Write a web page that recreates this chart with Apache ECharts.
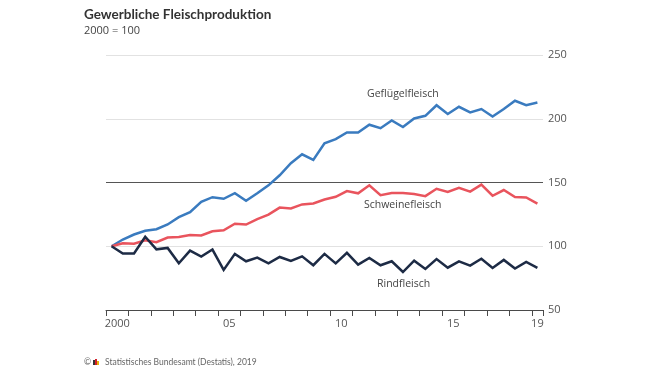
<!DOCTYPE html>
<html>
<head>
<meta charset="utf-8">
<script src="https://cdn.jsdelivr.net/npm/echarts@6/dist/echarts.min.js"></script>
<style>
html,body{margin:0;padding:0;background:#fff;}
#chart{width:650px;height:366px;}
</style>
</head>
<body>
<div id="chart"></div>
<script>
// Half-yearly periods 2000 H1 .. 2019 H1
const years = [];
for (let y = 2000; y <= 2019; y++) years.push(y);
const periods = [];
years.forEach(y => { periods.push(y + ' H1'); if (y < 2019) periods.push(y + ' H2'); });

const gefluegel = [100, 105.3, 109.2, 112.1, 113.4, 117.1, 122.8, 126.8, 134.9, 138.5,
  137.2, 141.6, 135.6, 141.5, 147.8, 155.7, 165.1, 172.1, 167.7, 180.7,
  184.0, 189.2, 189.2, 195.3, 192.6, 198.6, 193.5, 200.2, 202.3, 210.6,
  203.7, 209.4, 205.0, 207.6, 201.8, 207.6, 214.1, 210.7, 212.8];
const schwein = [100, 102.4, 102.0, 104.7, 103.2, 106.8, 107.3, 108.9, 108.5, 111.7,
  112.5, 117.7, 117.0, 121.3, 124.8, 130.3, 129.6, 132.8, 133.6, 136.7,
  138.8, 143.3, 141.5, 147.8, 140.1, 141.7, 141.7, 140.9, 139.3, 145.1,
  142.6, 145.9, 142.8, 148.3, 139.6, 144.1, 138.6, 138.3, 133.4];
const rind = [100, 94.3, 94.3, 107.5, 97.6, 98.7, 86.6, 96.6, 91.9, 97.4,
  81.4, 94.0, 88.2, 91.1, 86.6, 91.6, 88.5, 92.1, 85.1, 94.0,
  86.6, 94.8, 85.6, 90.8, 85.1, 88.2, 79.8, 88.7, 82.2, 89.9,
  83.2, 88.1, 84.8, 90.2, 83.0, 89.3, 82.5, 87.7, 83.0];

const xTickLabels = ['2000', '05', '10', '15', '19'];
const xTickLabelPos = [1, 11, 21, 31, 38.5];   // centre of the labelled year (half-year units)
const xTickPos = [];
for (let i = 0; i <= 38; i += 2) xTickPos.push(i);
xTickPos.push(39);

const seriesNames = ['Geflügelfleisch', 'Schweinefleisch', 'Rindfleisch'];
const colors = ['#3a7bbf', '#e9545d', '#1d2b45'];

const FONT = 'Open Sans';
const TFONT = 'Lato';
const chart = echarts.init(document.getElementById('chart'), null, {renderer: 'canvas'});

chart.setOption({
  animation: false,
  backgroundColor: '#fff',
  textStyle: {fontFamily: FONT},
  grid: {left: 106, right: 107, top: 55, bottom: 56},
  xAxis: [{
    type: 'category',
    data: periods,
    boundaryGap: true,
    axisLine: {show: false},
    axisTick: {show: false},
    axisLabel: {show: false},
    splitLine: {show: false}
  }, {
    type: 'value',
    position: 'bottom',
    min: 0,
    max: 39,
    axisLine: {show: true, lineStyle: {color: '#4a4a4a', width: 1}},
    axisTick: {show: true, length: 6, customValues: xTickPos, lineStyle: {color: '#4a4a4a', width: 1}},
    axisLabel: {
      show: true, customValues: xTickLabelPos, margin: 8,
      color: '#555', fontSize: 11, fontFamily: FONT,
      formatter: v => { const k = xTickLabelPos.indexOf(v); return k >= 0 ? xTickLabels[k] : ''; }
    },
    splitLine: {show: false}
  }],
  yAxis: {
    type: 'value',
    position: 'right',
    min: 50, max: 250, interval: 50,
    axisLine: {show: false},
    axisTick: {show: false},
    axisLabel: {margin: 5, color: '#555', fontSize: 11, fontFamily: FONT},
    splitLine: {show: true, lineStyle: {color: ['#4a4a4a', '#e2e2e2', '#555555', '#e2e2e2', '#e2e2e2'], width: 1}}
  },
  series: seriesNames.map((name, k) => ({
    name: name,
    type: 'line',
    xAxisIndex: 0,
    data: [gefluegel, schwein, rind][k],
    symbol: 'none',
    smooth: false,
    lineStyle: {color: colors[k], width: 2.5, join: 'miter'},
    z: 3 + k
  })),
  graphic: [
    {type: 'text', left: 84, top: 8, style: {text: 'Gewerbliche Fleischproduk\u200Ction', font: 'bold 13.5px "' + TFONT + '"', fill: '#333'}},
    {type: 'text', left: 84, top: 25, style: {text: '2000 = 100', font: '11px "' + FONT + '"', fill: '#444'}},
    {type: 'text', left: 367, top: 89, style: {text: seriesNames[0], font: '10.5px "' + FONT + '"', fill: '#444'}},
    {type: 'text', left: 364, top: 200, style: {text: seriesNames[1], font: '10.5px "' + FONT + '"', fill: '#444'}},
    {type: 'text', left: 377, top: 279, style: {text: seriesNames[2], font: '10.5px "' + FONT + '"', fill: '#444'}},
    {type: 'text', left: 84, top: 358, style: {text: '©', font: '8.5px "' + TFONT + '"', fill: '#666'}},
    {type: 'rect', left: 93, top: 360, shape: {width: 2, height: 5}, style: {fill: '#333'}},
    {type: 'rect', left: 95, top: 359, shape: {width: 2, height: 6}, style: {fill: '#d0202a'}},
    {type: 'rect', left: 97, top: 361, shape: {width: 2, height: 4}, style: {fill: '#e5b20d'}},
    {type: 'text', left: 105, top: 358, style: {text: 'Statistisches Bundesamt (Destatis), 2019', font: '8.5px "' + TFONT + '"', fill: '#666'}}
  ]
});
</script>
</body>
</html>
